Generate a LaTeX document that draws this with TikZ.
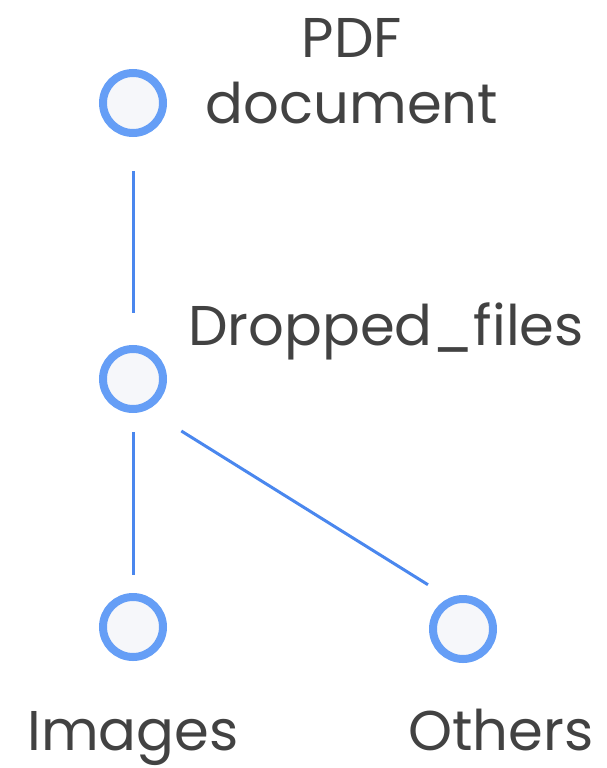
\documentclass[tikz,border=0pt]{standalone}
\usepackage{fontspec}
\setmainfont{Poppins}
\usepackage{xcolor}
\definecolor{ringblue}{HTML}{659EF6}
\definecolor{nodefill}{HTML}{F6F7FA}
\definecolor{edgeblue}{HTML}{4A87EE}
\definecolor{labelgray}{HTML}{424242}

\begin{document}
\begin{tikzpicture}[
    x=1pt, y=-1pt,
    tree-node/.style={circle, draw=ringblue, fill=nodefill, line width=8pt, minimum size=60pt, inner sep=0pt},
    tree-label/.style={text=labelgray, font=\fontsize{56}{66}\selectfont, align=center, inner sep=0pt, anchor=base},
    tree-edge/.style={draw=edgeblue, line width=3pt}
  ]
\useasboundingbox (0,0) rectangle (607,768);

% Nodes of the tree
\node[tree-node] (pdf) at (133,103) {};
\node[tree-node] (drop) at (133,379) {};
\node[tree-node] (img) at (133,627) {};
\node[tree-node] (oth) at (463,629) {};

% Labels
\node[tree-label] (pdf-lbl) at (352,123) {PDF\\document};
\node[tree-label] (drop-lbl) at (386,345) {Dropped\_files};
\node[tree-label] (img-lbl) at (133,750) {Images};
\node[tree-label] (oth-lbl) at (501,750) {Others};

% Edges
\draw[tree-edge, shorten <=34pt, shorten >=32pt] (pdf) -- (drop);
\draw[tree-edge, shorten <=19pt, shorten >=18pt] (drop) -- (img);
\draw[tree-edge, shorten <=40pt, shorten >=25pt] (drop.-65.5) -- (oth.114.5);

\end{tikzpicture}
\end{document}
